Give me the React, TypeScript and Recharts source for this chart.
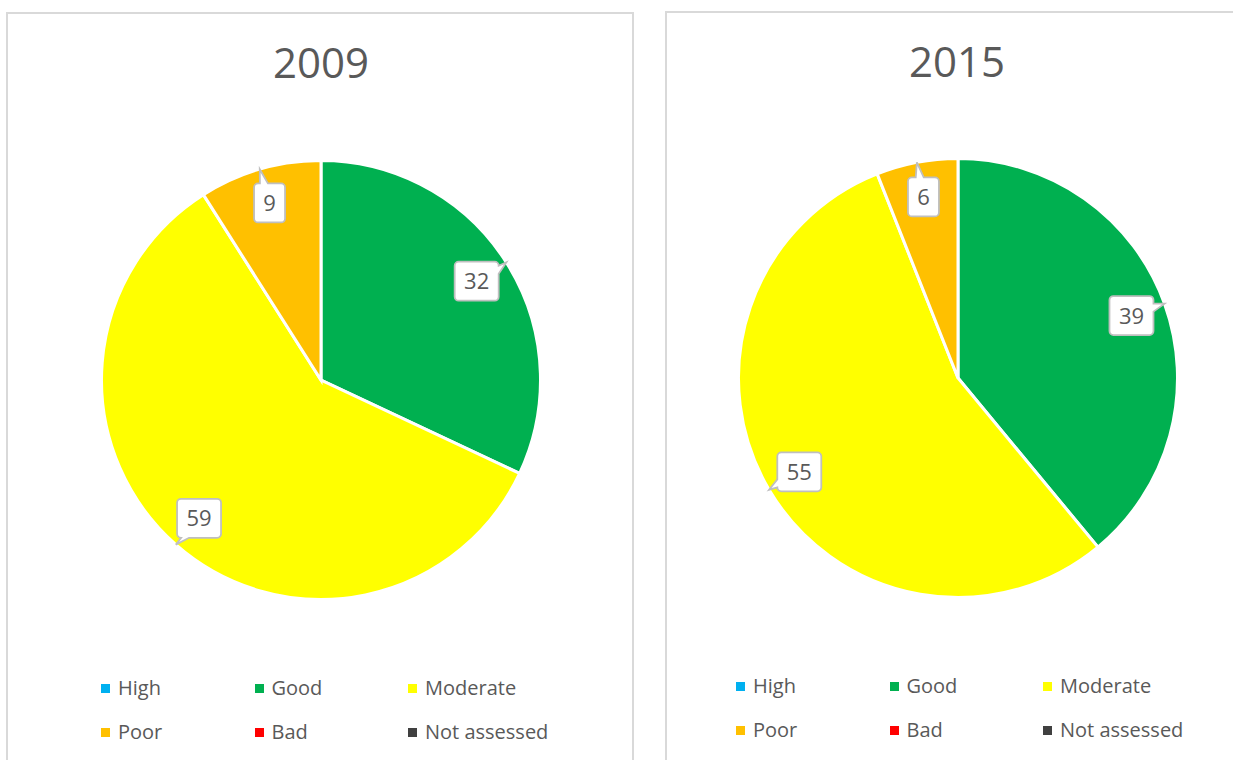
import React from 'react';
import { PieChart, Pie, Cell, Legend } from 'recharts';

const categories = ['High', 'Good', 'Moderate', 'Poor', 'Bad', 'Not assessed'];
const colors = ['#00B0F0', '#00B050', '#FFFF00', '#FFC000', '#FF0000', '#404040'];
const values2009 = [0, 32, 59, 9, 0, 0];
const values2015 = [0, 39, 55, 6, 0, 0];
const titles = ['2009', '2015'];

const FONT = '"Open Sans", "DejaVu Sans", sans-serif';
const TEXT = '#595959';
const RAD = Math.PI / 180;

const clamp = (v: number, a: number, b: number) => Math.max(a, Math.min(b, v));

function calloutPath(x: number, y: number, w: number, h: number, r: number, tx: number, ty: number) {
  const cxb = x + w / 2;
  const cyb = y + h / 2;
  const dx = tx - cxb;
  const dy = ty - cyb;
  const tX = dx !== 0 ? w / 2 / Math.abs(dx) : Infinity;
  const tY = dy !== 0 ? h / 2 / Math.abs(dy) : Infinity;
  const hw = 4;
  let side = 'top';
  let p = 0;
  if (tX < tY) {
    side = dx > 0 ? 'right' : 'left';
    p = clamp(cyb + dy * tX, y + r + hw, y + h - r - hw);
  } else {
    side = dy > 0 ? 'bottom' : 'top';
    p = clamp(cxb + dx * tY, x + r + hw, x + w - r - hw);
  }
  let d = `M${x + r},${y}`;
  if (side === 'top') d += ` L${p - hw},${y} L${tx},${ty} L${p + hw},${y}`;
  d += ` L${x + w - r},${y} A${r},${r} 0 0 1 ${x + w},${y + r}`;
  if (side === 'right') d += ` L${x + w},${p - hw} L${tx},${ty} L${x + w},${p + hw}`;
  d += ` L${x + w},${y + h - r} A${r},${r} 0 0 1 ${x + w - r},${y + h}`;
  if (side === 'bottom') d += ` L${p + hw},${y + h} L${tx},${ty} L${p - hw},${y + h}`;
  d += ` L${x + r},${y + h} A${r},${r} 0 0 1 ${x},${y + h - r}`;
  if (side === 'left') d += ` L${x},${p + hw} L${tx},${ty} L${x},${p - hw}`;
  d += ` L${x},${y + r} A${r},${r} 0 0 1 ${x + r},${y} Z`;
  return d;
}

const renderCallout = (props: any) => {
  const { cx, cy, midAngle, outerRadius, value, index } = props;
  if (!value) return null;
  const c = Math.cos(-midAngle * RAD);
  const s = Math.sin(-midAngle * RAD);
  const dist = outerRadius * 0.84;
  const bx = cx + dist * c;
  const by = cy + dist * s;
  const tx = cx + outerRadius * c;
  const ty = cy + outerRadius * s;
  const text = String(value);
  const w = text.length > 1 ? 44 : 31;
  const h = 39;
  const x = bx - w / 2;
  const y = by - h / 2;
  return (
    <g key={`callout-${index}`}>
      <path d={calloutPath(x, y, w, h, 4, tx, ty)} fill="#ffffff" stroke="#bfbfbf" strokeWidth={1.8} />
      <text x={bx} y={by + 8} textAnchor="middle" fontFamily={FONT} fontSize={22} fill={TEXT}>
        {text}
      </text>
    </g>
  );
};

const LegendBox = () => (
  <div style={{ position: 'relative', width: 480, height: 70, fontFamily: FONT, fontSize: 20, color: TEXT }}>
    {categories.map((c, i) => {
      const col = i % 3;
      const row = Math.floor(i / 3);
      return (
        <div
          key={c}
          style={{
            position: 'absolute',
            left: col * 153.5,
            top: row * 44,
            display: 'flex',
            alignItems: 'center',
            whiteSpace: 'nowrap',
            lineHeight: '24px',
            height: 24,
          }}
        >
          <span style={{ display: 'inline-block', width: 9, height: 9, background: colors[i], marginRight: 8 }} />
          <span>{c}</span>
        </div>
      );
    })}
  </div>
);

type PanelProps = {
  left: number;
  top: number;
  width: number;
  title: string;
  values: number[];
  cx: number;
  cy: number;
  titleX: number;
  legendLeft: number;
  legendTop: number;
};

const Panel = ({ left, top, width, title, values, cx, cy, titleX, legendLeft, legendTop }: PanelProps) => {
  const data = categories
    .map((name, i) => ({ name, value: values[i], color: colors[i] }))
    .filter((d) => d.value > 0);
  const innerW = width - 4;
  const innerH = 796;
  return (
    <div
      style={{
        position: 'absolute',
        left,
        top,
        width,
        height: 800,
        border: '2px solid #d9d9d9',
        boxSizing: 'border-box',
        background: '#ffffff',
      }}
    >
      <PieChart width={innerW} height={innerH} margin={{ top: 0, right: 0, bottom: 0, left: 0 }}>
        <Pie
          data={data}
          dataKey="value"
          nameKey="name"
          cx={cx}
          cy={cy}
          outerRadius={219.5}
          startAngle={90}
          endAngle={-270}
          stroke="#ffffff"
          strokeWidth={3}
          label={renderCallout}
          labelLine={false}
          isAnimationActive={false}
        >
          {data.map((d) => (
            <Cell key={d.name} fill={d.color} stroke="#ffffff" strokeWidth={3} />
          ))}
        </Pie>
        <Legend
          content={() => <LegendBox />}
          wrapperStyle={{ position: 'absolute', left: legendLeft, top: legendTop, width: 480, height: 70 }}
        />
      </PieChart>
      <svg
        width={innerW}
        height={100}
        style={{ position: 'absolute', left: 0, top: 0, pointerEvents: 'none' }}
      >
        <text x={titleX} y={64} textAnchor="middle" fontFamily={FONT} fontSize={42} fill={TEXT}>
          {title}
        </text>
      </svg>
    </div>
  );
};

export default function App() {
  return (
    <div
      style={{
        position: 'absolute',
        left: 0,
        top: 0,
        width: 1233,
        height: 760,
        overflow: 'hidden',
        background: '#ffffff',
      }}
    >
      <Panel
        left={6}
        top={12}
        width={628}
        title={titles[0]}
        values={values2009}
        cx={313}
        cy={366}
        titleX={313}
        legendLeft={93}
        legendTop={662}
      />
      <Panel
        left={665}
        top={11}
        width={600}
        title={titles[1]}
        values={values2015}
        cx={291}
        cy={365}
        titleX={290}
        legendLeft={69}
        legendTop={661}
      />
    </div>
  );
}
